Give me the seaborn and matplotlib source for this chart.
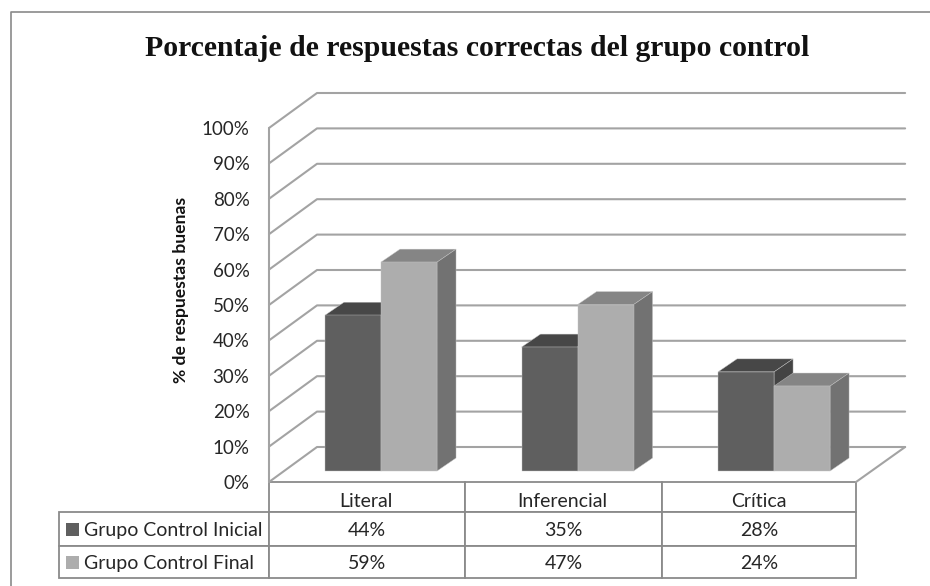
import pandas as pd
import matplotlib
matplotlib.use('Agg')
import matplotlib.pyplot as plt
from matplotlib.patches import Polygon, Rectangle
from matplotlib.lines import Line2D
import seaborn as sns

niveles = ['Literal', 'Inferencial', 'Crítica']
inicial = [44, 35, 28]
final = [59, 47, 24]
grupos = ['Grupo Control Inicial', 'Grupo Control Final']
ticks = list(range(0, 110, 10))

colores = ['#5f5f5f', '#adadad']
techos = ['#474747', '#858585']
lados = ['#444444', '#727272']
linea = '#a3a3a3'
borde = '#8a8a8a'
texto = '#262626'

W, H = 930, 586
# pixel box of the front plane of the chart
X0, X1, Y0, Y1 = 269, 856, 482, 128

df = pd.DataFrame({
    'Nivel': niveles * 2,
    'Grupo': [grupos[0]] * 3 + [grupos[1]] * 3,
    'Pct': inicial + final,
})

sns.set_theme(style='white')
plt.rcParams['font.family'] = ['Lato', 'DejaVu Sans']

fig = plt.figure(figsize=(W / 100, H / 100), dpi=100)
ax = fig.add_axes([X0 / W, 1 - Y0 / H, (X1 - X0) / W, (Y0 - Y1) / H])
ax.patch.set_visible(False)

sns.barplot(data=df, x='Nivel', y='Pct', hue='Grupo', palette=colores, width=0.57,
            gap=0, saturation=1, legend=False, ax=ax)

ax.set_xlim(-0.57, 2.417)
ax.set_ylim(0, 100)
ax.set_xlabel('')
ax.set_xticks([])
ax.set_yticks(ticks)
ax.set_yticklabels([f'{t}%' for t in ticks], fontsize=13.5, color=texto)
ax.tick_params(axis='y', length=0, pad=14)
ax.set_ylabel('% de respuestas buenas', fontsize=12.6, fontweight='bold', color='#111111')
ax.yaxis.set_label_coords((189 - X0) / (X1 - X0), (Y0 - 290) / (Y0 - Y1))
sns.despine(ax=ax, top=True, right=True, bottom=True, left=True)

# depth of the fake 3D, in data units
prof_x = 48 / 196.5
prof_y = 35 / 3.54
barra_x = 19 / 196.5
barra_y = 13 / 3.54
base = 11 / 3.54

# walls and floor
for t in ticks:
    ax.add_line(Line2D([-0.57, -0.57 + prof_x, 2.417 + 0.25], [t, t + prof_y, t + prof_y],
                       color=linea, lw=1.5, clip_on=False, zorder=1))
ax.add_line(Line2D([-0.57, -0.57], [0, 100], color=linea, lw=1.5, clip_on=False, zorder=1))
ax.add_line(Line2D([2.417, 2.417 + 0.25], [0, prof_y], color=linea, lw=1.5, clip_on=False, zorder=1))

# top and side faces are built from the bars seaborn drew
for i, p in enumerate(ax.patches[:6]):
    g = i // 3
    p.set_y(base)
    p.set_edgecolor('#c4c4c4')
    p.set_linewidth(0.3)
    p.set_zorder(4 + 2 * g)
    x0 = p.get_x()
    x1 = x0 + p.get_width()
    y0 = base
    y1 = base + p.get_height()
    ax.add_patch(Polygon([(x0, y1), (x1, y1), (x1 + barra_x, y1 + barra_y), (x0 + barra_x, y1 + barra_y)],
                         fc=techos[g], ec='#c4c4c4', lw=0.3, clip_on=False, zorder=3 + 2 * g))
    ax.add_patch(Polygon([(x1, y0), (x1 + barra_x, y0 + barra_y), (x1 + barra_x, y1 + barra_y), (x1, y1)],
                         fc=lados[g], ec='#c4c4c4', lw=0.3, clip_on=False, zorder=3 + 2 * g))

# data table under the chart, header text is placed apart because it sits low in its row
filas = [[''] * 4,
         [grupos[0]] + [f'{v}%' for v in inicial],
         [grupos[1]] + [f'{v}%' for v in final]]
tabla = ax.table(cellText=filas, cellLoc='center', colWidths=[210, 196, 197, 194],
                 bbox=[(59 - X0) / (X1 - X0), -(578 - Y0) / (Y0 - Y1), (X1 - 59) / (X1 - X0), (578 - Y0) / (Y0 - Y1)])
tabla.auto_set_font_size(False)
tabla.set_fontsize(14)
alturas = [30, 34, 32]
for (f, c), celda in tabla.get_celld().items():
    celda.set_height(alturas[f] / 96)
    celda.set_edgecolor(borde)
    celda.set_linewidth(1.3)
    celda.get_text().set_color(texto)
    celda.get_text().set_va('center_baseline')
    if c == 0:
        celda.PAD = 0.12
        celda.get_text().set_ha('left')
tabla[(0, 0)].visible_edges = ''

for i, nivel in enumerate(niveles):
    ax.text(i - 15 / 196.5, -19.5 / 3.54, nivel, ha='center', va='center', fontsize=14,
            color=texto, clip_on=False, zorder=8)

# legend keys in the first column
for g, yy in enumerate([529, 562]):
    ax.add_patch(Rectangle(((66 - X0) / (X1 - X0), (Y0 - yy - 6.5) / (Y0 - Y1)), 13 / (X1 - X0), 13 / (Y0 - Y1),
                           transform=ax.transAxes, fc=colores[g], ec='none', clip_on=False, zorder=8))

fig.text(477 / W, 1 - 48 / H, 'Porcentaje de respuestas correctas del grupo control',
         ha='center', va='center', fontsize=21.4, fontweight='bold', family='Liberation Serif', color='#111111')

# frame of the picture
fig.add_artist(Line2D([11 / W, 11 / W, 1], [0, 1 - 12 / H, 1 - 12 / H], color=borde, lw=1.2))

fig.savefig('out.png', dpi=100)
